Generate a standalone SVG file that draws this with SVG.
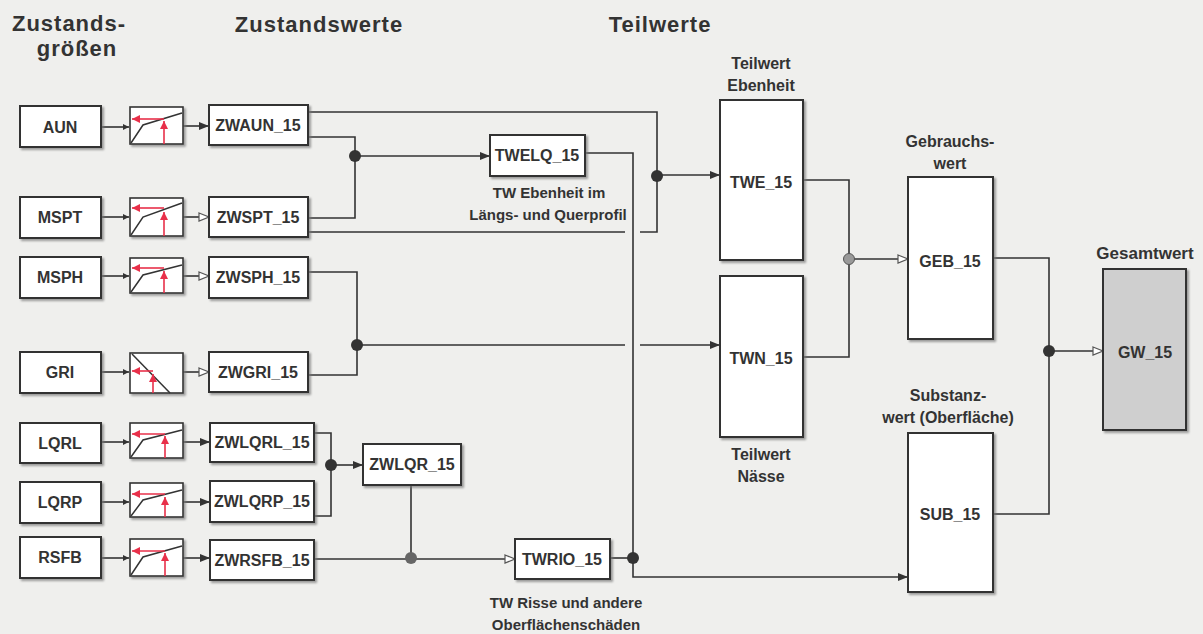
<svg xmlns="http://www.w3.org/2000/svg" width="1203" height="634" viewBox="0 0 1203 634">
<defs>
<filter id="sh" x="-10%" y="-10%" width="130%" height="130%"><feDropShadow dx="2" dy="2" stdDeviation="1.2" flood-color="#777" flood-opacity="0.7"/></filter>
<marker id="af" viewBox="0 0 10 8" refX="10" refY="4" markerWidth="10" markerHeight="8" markerUnits="userSpaceOnUse" orient="auto"><path d="M0,0 L10,4 L0,8 z" fill="#333"/></marker>
<marker id="ao" viewBox="0 0 12 10" refX="11" refY="5" markerWidth="12" markerHeight="10" markerUnits="userSpaceOnUse" orient="auto"><path d="M1,1 L11,5 L1,9 z" fill="#fff" stroke="#555" stroke-width="1.2"/></marker>
<marker id="as" viewBox="0 0 6 6" refX="6" refY="3" markerWidth="6" markerHeight="6" markerUnits="userSpaceOnUse" orient="auto"><path d="M0,0 L6,3 L0,6 z" fill="#333"/></marker>
<marker id="ar" viewBox="0 0 8 8" refX="8" refY="4" markerWidth="8" markerHeight="8" markerUnits="userSpaceOnUse" orient="auto"><path d="M0,0 L8,4 L0,8 z" fill="#e8304a"/></marker>
</defs>
<style>
.bx{fill:#fff;stroke:#333;stroke-width:2;filter:url(#sh)}
.gw{fill:#cfcfcf;stroke:#333;stroke-width:2;filter:url(#sh)}
.fb{fill:#fff;stroke:#333;stroke-width:1.6;filter:url(#sh)}
.t{font-family:"Liberation Sans",Arial,sans-serif;font-weight:bold;fill:#333;text-anchor:middle}
.n{font-size:16px}
.h{font-size:22px;letter-spacing:1px}
.l{font-size:15px}
.m{font-size:16px}
.c{fill:none;stroke:#333;stroke-width:1.6}
.cv{fill:none;stroke:#333;stroke-width:1.5}
.rd{fill:none;stroke:#e8304a;stroke-width:1.6}
.j{fill:#333}
</style>
<rect width="1203" height="634" fill="#efefed"/>

<g id="headers">
<text class="t h" x="69" y="31">Zustands-</text>
<text class="t h" x="77" y="56">größen</text>
<text class="t h" x="319" y="32">Zustandswerte</text>
<text class="t h" x="660" y="32">Teilwerte</text>
</g>

<g id="connectors">
<path class="c" d="M101,127 H129" marker-end="url(#as)"/>
<path class="c" d="M101,217 H129" marker-end="url(#as)"/>
<path class="c" d="M101,276 H129" marker-end="url(#as)"/>
<path class="c" d="M101,372 H129" marker-end="url(#as)"/>
<path class="c" d="M101,442 H129" marker-end="url(#as)"/>
<path class="c" d="M101,502 H129" marker-end="url(#as)"/>
<path class="c" d="M101,558 H129" marker-end="url(#as)"/>
<path class="c" d="M183,126 H209" marker-end="url(#af)"/>
<path class="c" d="M183,217 H209" marker-end="url(#ao)"/>
<path class="c" d="M183,276 H209" marker-end="url(#ao)"/>
<path class="c" d="M183,372 H209" marker-end="url(#ao)"/>
<path class="c" d="M183,442 H210" marker-end="url(#af)"/>
<path class="c" d="M183,502 H210" marker-end="url(#af)"/>
<path class="c" d="M183,558 H210" marker-end="url(#af)"/>
<path class="c" d="M308,112 H657 V176"/>
<path class="c" d="M308,232 H625 M640,232 H657 V176"/>
<path class="c" d="M308,137 H355 V156"/>
<path class="c" d="M308,218 H355 V156"/>
<path class="c" d="M355,156 H490" marker-end="url(#af)"/>
<path class="c" d="M657,175 H720" marker-end="url(#af)"/>
<path class="c" d="M585,153 H633 V558"/>
<path class="c" d="M308,272 H357 V345"/>
<path class="c" d="M308,375 H357 V345"/>
<path class="c" d="M357,345 H625 M640,345 H720" marker-end="url(#af)"/>
<path class="c" d="M314,433 H331 V465"/>
<path class="c" d="M314,516 H331 V465"/>
<path class="c" d="M331,465 H363" marker-end="url(#af)"/>
<path class="c" d="M411,485 V558"/>
<path class="c" d="M314,559 H515" marker-end="url(#ao)"/>
<path class="c" d="M610,558 H633"/>
<path class="c" d="M633,558 V577 H908" marker-end="url(#af)"/>
<path class="c" d="M803,180 H849 V259"/>
<path class="c" d="M803,357 H849 V259"/>
<path class="c" d="M849,259 H908" marker-end="url(#ao)"/>
<path class="c" d="M993,258 H1049 V351"/>
<path class="c" d="M993,514 H1049 V351"/>
<path class="c" d="M1049,351 H1103" marker-end="url(#ao)"/>
<circle class="j" cx="355" cy="156" r="6"/>
<circle class="j" cx="657" cy="176" r="6"/>
<circle class="j" cx="357" cy="345" r="6"/>
<circle class="j" cx="331" cy="465" r="6"/>
<circle cx="411" cy="558" r="6" fill="#666"/>
<circle class="j" cx="633" cy="558" r="6"/>
<circle cx="849" cy="259" r="5.5" fill="#999" stroke="#555" stroke-width="1"/>
<circle class="j" cx="1049" cy="351" r="6"/>
</g>

<g id="AUN"><rect class="bx" x="20" y="106" width="81" height="41"/><text class="t n" x="60" y="133">AUN</text></g>
<g id="MSPT"><rect class="bx" x="20" y="197" width="81" height="41"/><text class="t n" x="60" y="223">MSPT</text></g>
<g id="MSPH"><rect class="bx" x="20" y="257" width="81" height="41"/><text class="t n" x="60" y="283">MSPH</text></g>
<g id="GRI"><rect class="bx" x="20" y="352" width="81" height="41"/><text class="t n" x="60" y="378">GRI</text></g>
<g id="LQRL"><rect class="bx" x="20" y="423" width="81" height="40"/><text class="t n" x="60" y="449">LQRL</text></g>
<g id="LQRP"><rect class="bx" x="20" y="482" width="81" height="41"/><text class="t n" x="60" y="508">LQRP</text></g>
<g id="RSFB"><rect class="bx" x="20" y="537" width="81" height="41"/><text class="t n" x="60" y="563">RSFB</text></g>

<g id="F_AUN"><rect class="fb" x="130" y="107" width="53" height="37"/><polyline class="cv" points="131,143 143,125 182,113"/><path class="rd" d="M164,144 V121" marker-end="url(#ar)"/><path class="rd" d="M164,119 H132" marker-end="url(#ar)"/></g>
<g id="F_MSPT"><rect class="fb" x="130" y="198" width="53" height="38"/><polyline class="cv" points="131,235 143,217 182,203"/><path class="rd" d="M164,236 V212" marker-end="url(#ar)"/><path class="rd" d="M164,208 H132" marker-end="url(#ar)"/></g>
<g id="F_MSPH"><rect class="fb" x="130" y="258" width="53" height="35"/><polyline class="cv" points="131,292 143,275 182,265"/><path class="rd" d="M164,293 V271" marker-end="url(#ar)"/><path class="rd" d="M164,268 H132" marker-end="url(#ar)"/></g>
<g id="F_GRI"><rect class="fb" x="130" y="353" width="53" height="40"/><polyline class="cv" points="132,354 170,393"/><path class="rd" d="M153,393 V374" marker-end="url(#ar)"/><path class="rd" d="M153,371 H132" marker-end="url(#ar)"/></g>
<g id="F_LQRL"><rect class="fb" x="130" y="423" width="53" height="35"/><polyline class="cv" points="131,457 143,440 182,430"/><path class="rd" d="M165,458 V436" marker-end="url(#ar)"/><path class="rd" d="M165,434 H132" marker-end="url(#ar)"/></g>
<g id="F_LQRP"><rect class="fb" x="130" y="483" width="53" height="34"/><polyline class="cv" points="131,516 143,500 182,490"/><path class="rd" d="M165,517 V497" marker-end="url(#ar)"/><path class="rd" d="M165,494 H132" marker-end="url(#ar)"/></g>
<g id="F_RSFB"><rect class="fb" x="130" y="539" width="53" height="37"/><polyline class="cv" points="131,575 143,557 182,546"/><path class="rd" d="M165,576 V553" marker-end="url(#ar)"/><path class="rd" d="M165,551 H132" marker-end="url(#ar)"/></g>

<g id="ZWAUN_15"><rect class="bx" x="209" y="105" width="99" height="40"/><text class="t n" x="258" y="131">ZWAUN_15</text></g>
<g id="ZWSPT_15"><rect class="bx" x="209" y="197" width="99" height="40"/><text class="t n" x="258" y="223">ZWSPT_15</text></g>
<g id="ZWSPH_15"><rect class="bx" x="209" y="257" width="99" height="41"/><text class="t n" x="258" y="283">ZWSPH_15</text></g>
<g id="ZWGRI_15"><rect class="bx" x="209" y="352" width="99" height="40"/><text class="t n" x="258" y="378">ZWGRI_15</text></g>
<g id="ZWLQRL_15"><rect class="bx" x="210" y="423" width="104" height="39"/><text class="t n" x="262" y="448">ZWLQRL_15</text></g>
<g id="ZWLQRP_15"><rect class="bx" x="210" y="481" width="104" height="41"/><text class="t n" x="262" y="507">ZWLQRP_15</text></g>
<g id="ZWRSFB_15"><rect class="bx" x="210" y="540" width="104" height="40"/><text class="t n" x="262" y="566">ZWRSFB_15</text></g>

<g id="ZWLQR_15"><rect class="bx" x="363" y="444" width="98" height="41"/><text class="t n" x="412" y="470">ZWLQR_15</text></g>
<g id="TWELQ_15"><rect class="bx" x="490" y="135" width="95" height="41"/><text class="t n" x="537" y="161">TWELQ_15</text>
<text class="t l" x="549" y="198">TW Ebenheit im</text><text class="t l" x="548" y="220">Längs- und Querprofil</text></g>
<g id="TWRIO_15"><rect class="bx" x="515" y="539" width="95" height="40"/><text class="t n" x="562" y="565">TWRIO_15</text>
<text class="t l" x="566" y="608">TW Risse und andere</text><text class="t l" x="566" y="630">Oberflächenschäden</text></g>

<g id="TWE_15"><rect class="bx" x="720" y="100" width="83" height="160"/><text class="t n" x="761" y="188">TWE_15</text>
<text class="t m" x="761" y="69">Teilwert</text><text class="t m" x="761" y="91">Ebenheit</text></g>
<g id="TWN_15"><rect class="bx" x="720" y="276" width="83" height="161"/><text class="t n" x="761" y="364">TWN_15</text>
<text class="t m" x="761" y="460">Teilwert</text><text class="t m" x="761" y="482">Nässe</text></g>

<g id="GEB_15"><rect class="bx" x="908" y="177" width="85" height="162"/><text class="t n" x="950" y="267">GEB_15</text>
<text class="t m" x="950" y="147">Gebrauchs-</text><text class="t m" x="950" y="169">wert</text></g>
<g id="SUB_15"><rect class="bx" x="908" y="433" width="85" height="159"/><text class="t n" x="950" y="520">SUB_15</text>
<text class="t m" x="948" y="401">Substanz-</text><text class="t m" x="948" y="423">wert (Oberfläche)</text></g>

<g id="GW_15"><rect class="gw" x="1103" y="269" width="83" height="161"/><text class="t n" x="1145" y="358">GW_15</text>
<text class="t" style="font-size:17px" x="1145" y="259">Gesamtwert</text></g>
</svg>
